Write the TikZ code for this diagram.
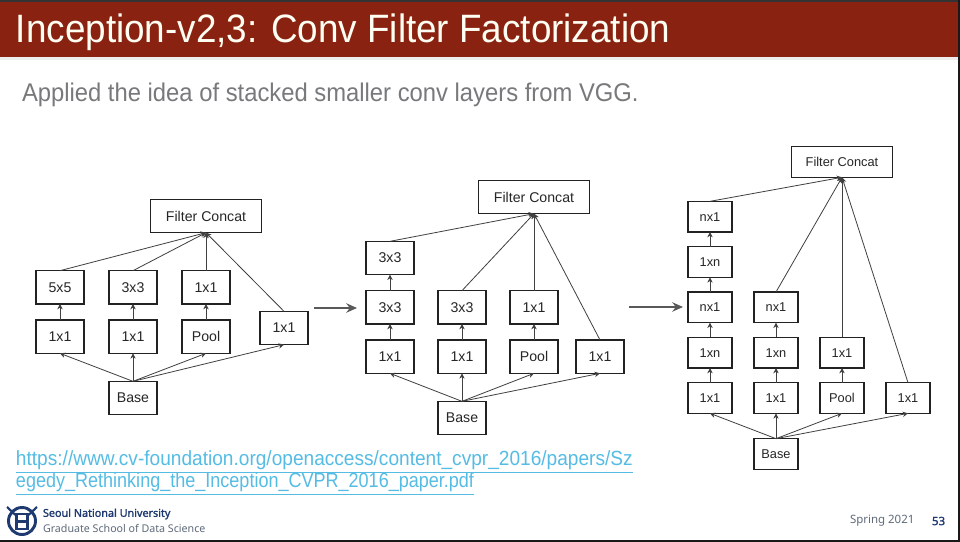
\documentclass[tikz,border=0pt]{standalone}
\usepackage{xcolor}
\usepackage{fontspec}
\setmainfont{Liberation Sans}
\newfontfamily\narrowfont[FakeStretch=0.93]{Liberation Sans}
\newfontfamily\linkfont[FakeStretch=0.878]{Liberation Sans}
\newfontfamily\footfont{Noto Sans}
\newfontfamily\footbold[FakeBold=1.6]{Noto Sans}
\usetikzlibrary{arrows.meta,positioning}
\definecolor{HeaderRed}{HTML}{8A2211}
\definecolor{SubGray}{HTML}{77797B}
\definecolor{LinkBlue}{HTML}{55BCE4}
\definecolor{SnuNavy}{HTML}{1F3A70}
\definecolor{FootGray}{HTML}{5F6B7A}
\definecolor{BoxLine}{HTML}{222222}

\begin{document}
\begin{tikzpicture}[
  x=0.75pt,y=-0.75pt,
  netbox/.style={rectangle,draw=BoxLine,line width=1pt,fill=white,inner sep=0pt,outer sep=0pt,
                 text=black!85,align=center},
  bigbox/.style={netbox,minimum width=36pt,minimum height=25pt,font=\fontsize{10.6}{12}\selectfont},
  bigtop/.style={netbox,minimum width=83pt,minimum height=25pt,font=\fontsize{10.6}{12}\selectfont},
  smallbox/.style={netbox,minimum width=33pt,minimum height=23pt,font=\fontsize{9.6}{11}\selectfont},
  smalltop/.style={netbox,minimum width=76pt,minimum height=23pt,font=\fontsize{9.6}{11}\selectfont},
  flow/.style={-{Stealth[length=4pt,width=4pt]},draw=black!75,line width=0.6pt},
  stage/.style={-{Stealth[length=8pt,width=7pt]},draw=black!65,line width=1.4pt},
  plaintext/.style={inner sep=0pt,outer sep=0pt,anchor=west}
]
\useasboundingbox (0,0) rectangle (960,542);
% slide frame
\fill[white] (0,0) rectangle (960,542);
\fill[black!7] (0,57) rectangle (958,60);
\fill[HeaderRed] (0,0) rectangle (960,57);
\fill[black!80] (0,0) rectangle (960,2);
\fill[black!90] (0,540) rectangle (960,542);
\fill[black!90] (958,0) rectangle (960,542);
\node[plaintext,text=white!95!yellow,font=\narrowfont\fontsize{29.7}{32}\selectfont] (title) at (16,32) {Inception-v2,3: Conv Filter Factorization};
\node[plaintext,text=SubGray,font=\narrowfont\fontsize{19.2}{22}\selectfont] (subtitle) at (22,95) {Applied the idea of stacked smaller conv layers from VGG.};

% first module
\node[bigbox] (a_base) at (133,398) {Base};
\node[bigbox,above=21pt of a_base] (a_r2) {1x1};
\node[bigbox,left=18.75pt of a_r2] (a_r1) {1x1};
\node[bigbox,right=18.75pt of a_r2] (a_r3) {Pool};
\node[bigbox] (a_r4) at (284,328) {1x1};
\node[bigbox,above=12pt of a_r1] (a_t1) {5x5};
\node[bigbox,above=12pt of a_r2] (a_t2) {3x3};
\node[bigbox,above=12pt of a_r3] (a_t3) {1x1};
\node[bigtop,above=28.5pt of a_t3] (a_top) {Filter Concat};
\foreach \n in {a_r1,a_r2,a_r3,a_r4} \draw[flow] (a_base.north) -- (\n.south);
\foreach \n in {1,2,3} \draw[flow] (a_r\n) -- (a_t\n);
\foreach \n in {a_t1,a_t2,a_t3,a_r4} \draw[flow] (\n.north) -- (a_top.south);

% second module
\node[bigbox] (b_base) at (462,418) {Base};
\node[bigbox,above=21pt of b_base] (b_r2) {1x1};
\node[bigbox,left=18pt of b_r2] (b_r1) {1x1};
\node[bigbox,right=18pt of b_r2] (b_r3) {Pool};
\node[bigbox,right=13.5pt of b_r3] (b_r4) {1x1};
\node[bigbox,above=12pt of b_r1] (b_m1) {3x3};
\node[bigbox,above=12pt of b_r2] (b_m2) {3x3};
\node[bigbox,above=12pt of b_r3] (b_m3) {1x1};
\node[bigbox,above=12pt of b_m1] (b_t1) {3x3};
\node[bigtop,above=57.75pt of b_m3] (b_top) {Filter Concat};
\foreach \n in {b_r1,b_r2,b_r3,b_r4} \draw[flow] (b_base.north) -- (\n.south);
\foreach \n in {1,2,3} \draw[flow] (b_r\n) -- (b_m\n);
\draw[flow] (b_m1) -- (b_t1);
\foreach \n in {b_t1,b_m2,b_m3,b_r4} \draw[flow] (\n.north) -- (b_top.south);

% third module
\node[smallbox] (c_base) at (776,454) {Base};
\node[smallbox,above=19pt of c_base] (c_r2) {1x1};
\node[smallbox,left=16.5pt of c_r2] (c_r1) {1x1};
\node[smallbox,right=16.5pt of c_r2] (c_r3) {Pool};
\node[smallbox,right=16.5pt of c_r3] (c_r4) {1x1};
\node[smallbox,above=11pt of c_r1] (c_a1) {1xn};
\node[smallbox,above=11pt of c_r2] (c_a2) {1xn};
\node[smallbox,above=11pt of c_r3] (c_a3) {1x1};
\node[smallbox,above=11pt of c_a1] (c_b1) {nx1};
\node[smallbox,above=11pt of c_a2] (c_b2) {nx1};
\node[smallbox,above=11pt of c_b1] (c_c1) {1xn};
\node[smallbox,above=11pt of c_c1] (c_d1) {nx1};
\node[smalltop] (c_top) at (842,162) {Filter Concat};
\foreach \n in {c_r1,c_r2,c_r3,c_r4} \draw[flow] (c_base.north) -- (\n.south);
\foreach \n in {1,2,3} \draw[flow] (c_r\n) -- (c_a\n);
\foreach \n in {1,2} \draw[flow] (c_a\n) -- (c_b\n);
\draw[flow] (c_b1) -- (c_c1);
\draw[flow] (c_c1) -- (c_d1);
\foreach \n in {c_d1,c_b2,c_a3,c_r4} \draw[flow] (\n.north) -- (c_top.south);

% between modules
\coordinate (s1) at (314,308);
\coordinate (e1) at (357,308);
\coordinate (s2) at (629,307);
\coordinate (e2) at (683,307);
\draw[stage] (s1) -- (e1);
\draw[stage] (s2) -- (e2);

% link
\node[plaintext,text=LinkBlue,font=\narrowfont\fontsize{15.4}{18}\selectfont] (link1) at (16,462) {\underline{https://www.cv-foundation.org/openaccess/content\_cvpr\_2016/papers/Sz}};
\node[plaintext,text=LinkBlue,font=\linkfont\fontsize{15.4}{18}\selectfont] (link2) at (16,484) {\underline{egedy\_Rethinking\_the\_Inception\_CVPR\_2016\_paper.pdf}};

% footer
\draw[SnuNavy,line width=1.6pt] (7,507) -- (22,521);
\draw[SnuNavy,line width=1.6pt] (37,507) -- (22,521);
\draw[SnuNavy,line width=2.2pt] (22,521) circle[radius=13.5];
\fill[SnuNavy] (15,513) rectangle (29,530);
\fill[white] (18,515) rectangle (26,520);
\fill[white] (18,523) rectangle (26,528);
\node[plaintext,text=SnuNavy,font=\footbold\fontsize{8.1}{10}\selectfont] (snu) at (43,514) {Seoul National University};
\node[plaintext,text=FootGray,font=\footfont\fontsize{8}{10}\selectfont] (school) at (43,528) {Graduate School of Data Science};
\node[plaintext,text=FootGray,font=\footfont\fontsize{8.6}{10}\selectfont] (term) at (850,521) {Spring 2021};
\node[plaintext,text=SnuNavy,font=\footbold\fontsize{8.6}{10}\selectfont] (page) at (932,521) {53};
\end{tikzpicture}
\end{document}
